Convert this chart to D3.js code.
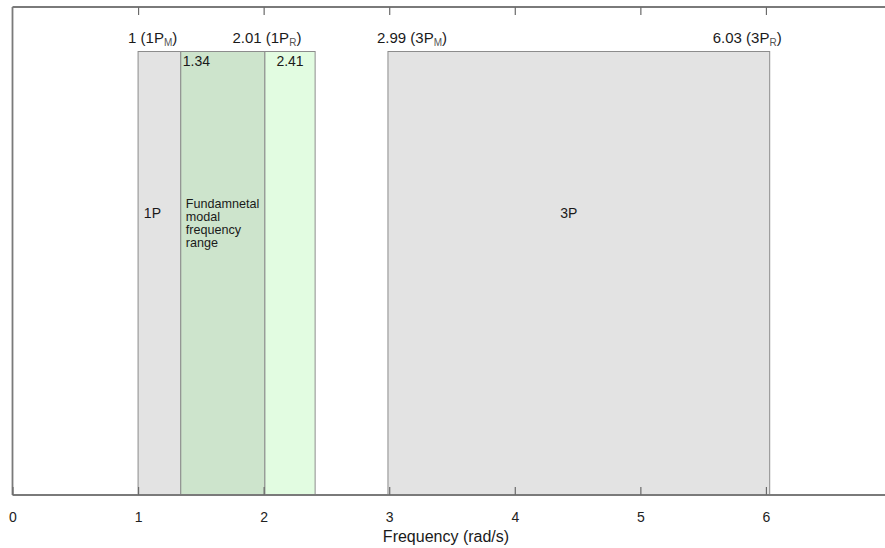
<!DOCTYPE html>
<html><head><meta charset="utf-8">
<script src="https://cdn.jsdelivr.net/npm/d3@7"></script>
<style>body{margin:0;background:#fff}svg{display:block;font-family:"Liberation Sans",Arial,sans-serif}</style>
</head><body>
<svg id="c" width="885" height="548"></svg>
<script>
const xTicks = [0,1,2,3,4,5,6];
const bands = [
  {name:"1P", x0:1, x1:1.34, kind:"gray"},
  {name:"fund", x0:1.34, x1:2.01, kind:"dark"},
  {name:"upper", x0:2.01, x1:2.41, kind:"light"},
  {name:"3P", x0:2.99, x1:6.03, kind:"gray"}
];
const topLabels = [
  {v:1, main:"1 (1P", sub:"M", anchor:"start", dx:-10},
  {v:2.01, main:"2.01 (1P", sub:"R", anchor:"middle", dx:2},
  {v:2.99, main:"2.99 (3P", sub:"M", anchor:"start", dx:-11},
  {v:6.03, main:"6.03 (3P", sub:"R", anchor:"end", dx:12}
];
const innerValues = [1.34, 2.41];
const fundText = ["Fundamnetal","modal","frequency","range"];
const xTitle = "Frequency (rad/s)";

const fills = {gray:"#e3e3e3", dark:"#cde4cc", light:"#e2fce1"};
const svg = d3.select("#c");
const x = d3.scaleLinear().domain([0,7]).range([12.5,891.5]);
const yTop = 7, yBot = 495, yBand = 51.5;

svg.selectAll("rect.band").data(bands).enter().append("rect")
  .attr("x", d=>x(d.x0)).attr("width", d=>x(d.x1)-x(d.x0))
  .attr("y", yBand).attr("height", yBot-yBand)
  .attr("fill", d=>fills[d.kind]).attr("stroke","#8c8c8c").attr("stroke-width",1);

const frame = svg.append("g").attr("stroke","#7a7a7a").attr("stroke-width",1.8).attr("fill","none");
frame.append("line").attr("x1",x(0)).attr("x2",885).attr("y1",yTop).attr("y2",yTop);
frame.append("line").attr("x1",x(0)).attr("x2",885).attr("y1",yBot).attr("y2",yBot);
frame.append("line").attr("x1",x(0)).attr("x2",x(0)).attr("y1",yTop).attr("y2",yBot);

const axB = svg.append("g").attr("transform",`translate(0,${yBot})`)
  .call(d3.axisBottom(x).tickValues(xTicks).tickSizeInner(-8).tickSizeOuter(0).tickPadding(17).tickFormat(d3.format("d")));
axB.select(".domain").remove();
axB.selectAll("line").attr("stroke","#6a6a6a").attr("stroke-width",1.2);
axB.selectAll("text").attr("font-size",14).attr("fill","#222").attr("font-family","Liberation Sans, Arial, sans-serif");

const axT = svg.append("g").attr("transform",`translate(0,${yTop})`)
  .call(d3.axisTop(x).tickValues(xTicks.filter(d=>d>0)).tickSizeInner(-8).tickSizeOuter(0).tickFormat(""));
axT.select(".domain").remove();
axT.selectAll("line").attr("stroke","#6a6a6a").attr("stroke-width",1.2);

const tl = svg.selectAll("text.tl").data(topLabels).enter().append("text")
  .attr("x", d=>x(d.v)+d.dx).attr("y", 43).attr("text-anchor", d=>d.anchor)
  .attr("font-size",15).attr("fill","#1a1a1a");
tl.append("tspan").text(d=>d.main);
tl.append("tspan").attr("font-size",10).attr("dy",3).attr("fill","#555").text(d=>d.sub);
tl.append("tspan").attr("dy",-3).text(")");

svg.append("text").attr("x",x(innerValues[0])+2).attr("y",66).attr("font-size",14).attr("fill","#1a1a1a").text(innerValues[0].toFixed(2));
svg.append("text").attr("x",(x(2.01)+x(2.41))/2).attr("y",66).attr("text-anchor","middle").attr("font-size",14).attr("fill","#1a1a1a").text(innerValues[1].toFixed(2));

svg.append("text").attr("x",(x(1)+x(1.34))/2-7).attr("y",218).attr("text-anchor","middle").attr("font-size",14).attr("fill","#1a1a1a").text("1P");
svg.append("text").attr("x",(x(2.99)+x(6.03))/2-10).attr("y",218).attr("text-anchor","middle").attr("font-size",14).attr("fill","#1a1a1a").text("3P");
svg.append("g").selectAll("text").data(fundText).enter().append("text")
  .attr("x",x(1.34)+5).attr("y",(d,i)=>208+i*13).attr("font-size",12.6).attr("fill","#1a1a1a").text(d=>d);

svg.append("text").attr("x",446).attr("y",542).attr("text-anchor","middle").attr("font-size",16).attr("fill","#1a1a1a").text(xTitle);
</script>
</body></html>
